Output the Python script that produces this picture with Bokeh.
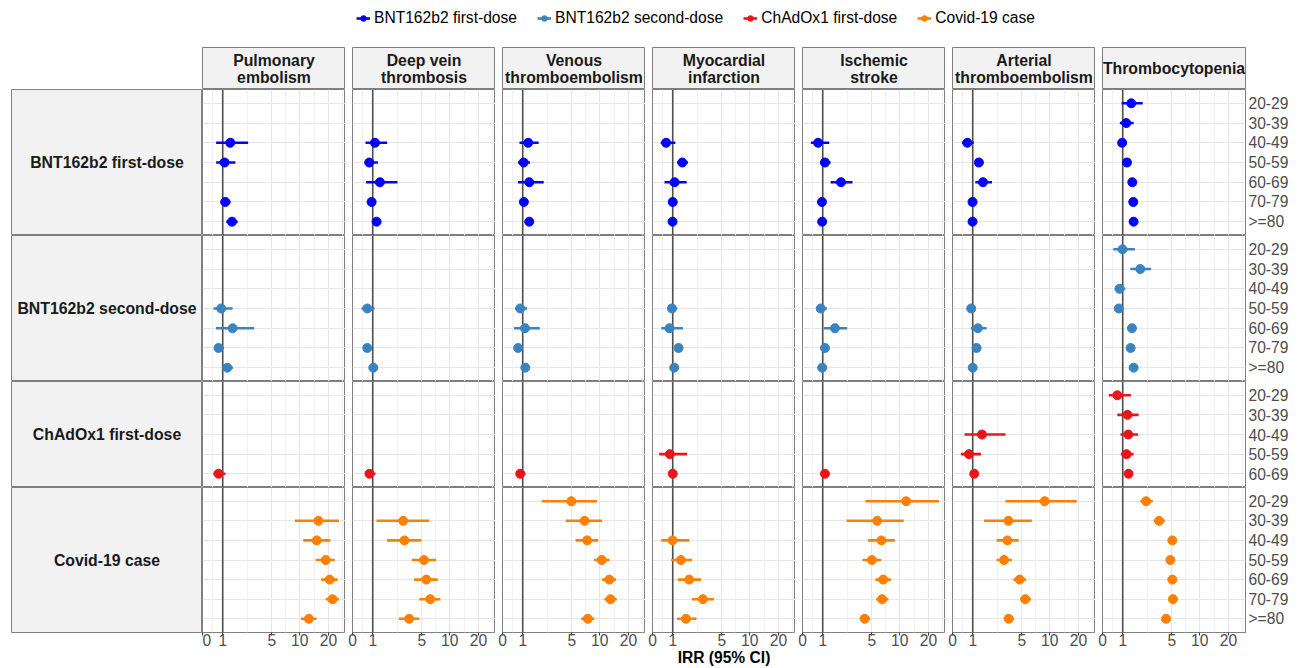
import math
from bokeh.plotting import figure
from bokeh.models import (GridBox, FixedTicker, Span, FactorRange, Range1d,
                          Legend, LegendItem, ColumnDataSource)
from bokeh.embed import file_html
from bokeh.resources import INLINE
from bokeh.core.properties import value

# ---------------- data ----------------
AGE_GROUPS = ["20-29", "30-39", "40-49", "50-59", "60-69", "70-79", ">=80"]
EXPOSURES = ["BNT162b2 first-dose", "BNT162b2 second-dose", "ChAdOx1 first-dose", "Covid-19 case"]
EXPOSURE_AGES = [AGE_GROUPS, AGE_GROUPS, AGE_GROUPS[:5], AGE_GROUPS]
OUTCOMES = ["Pulmonary\nembolism", "Deep vein\nthrombosis", "Venous\nthromboembolism",
            "Myocardial\ninfarction", "Ischemic\nstroke", "Arterial\nthromboembolism",
            "Thrombocytopenia"]
X_BREAKS = [0, 1, 5, 10, 20]
X_LIMIT = 30

N = None
# rows: 7 x BNT162b2 first-dose, 7 x BNT162b2 second-dose, 5 x ChAdOx1 first-dose, 7 x Covid-19 case
PE_IRR = [N, N, 1.42, 1.10, N, 1.14, 1.52, N, N, N, 0.92, 1.56, 0.78, 1.25, N, N, N, N, 0.78, N, 15.7, 15.1, 18.7, 20.6, 22.0, 12.5]
PE_LO = [N, N, 0.66, 0.66, N, 0.88, 1.19, N, N, N, 0.53, 0.65, 0.61, 1.03, N, N, N, N, 0.53, N, 8.9, 10.9, 14.7, 16.8, 18.7, 10.3]
PE_HI = [N, N, 2.62, 1.73, N, 1.44, 1.88, N, N, N, 1.56, 3.12, 1.06, 1.58, N, N, N, N, 1.15, N, 25.7, 20.9, 23.2, 24.9, 25.7, 15.0]

DVT_IRR = [N, N, 1.12, 0.82, 1.40, 0.94, 1.21, N, N, N, 0.72, N, 0.72, 1.03, N, N, N, N, 0.83, N, 3.04, 3.15, 5.30, 5.61, 6.20, 3.59]
DVT_LO = [N, N, 0.63, 0.58, 0.65, 0.76, 1.03, N, N, N, 0.43, N, 0.56, 0.87, N, N, N, N, 0.63, N, 1.21, 1.84, 3.86, 4.10, 4.70, 2.68]
DVT_HI = [N, N, 1.84, 1.28, 2.57, 1.15, 1.44, N, N, N, 1.10, N, 0.90, 1.25, N, N, N, N, 1.15, N, 6.04, 4.95, 7.17, 7.47, 7.98, 4.70]

VTE_IRR = [N, N, 1.30, 1.05, 1.36, 1.06, 1.36, N, N, N, 0.87, 1.12, 0.76, 1.14, N, N, N, N, 0.87, 4.95, 6.90, 7.36, 10.5, 12.6, 13.0, 7.48]
VTE_LO = [N, N, 0.83, 0.75, 0.75, 0.97, 1.25, N, N, N, 0.61, 0.56, 0.70, 1.05, N, N, N, N, 0.68, 2.15, 4.28, 5.51, 8.70, 10.6, 11.2, 6.35]
VTE_HI = [N, N, 1.94, 1.40, 2.29, 1.16, 1.47, N, N, N, 1.23, 2.01, 0.83, 1.24, N, N, N, N, 1.14, 9.38, 10.6, 9.67, 12.7, 14.8, 15.1, 8.78]

MI_IRR = [N, N, 0.66, 1.54, 1.10, 1.00, 0.99, N, N, N, 0.96, 0.83, 1.32, 1.08, N, N, N, 0.85, 1.00, N, N, 0.99, 1.46, 1.97, 3.01, 1.77]
MI_LO = [N, N, 0.39, 1.23, 0.58, 0.93, 0.92, N, N, N, 0.73, 0.42, 1.22, 1.00, N, N, N, 0.32, 0.90, N, N, 0.42, 0.92, 1.28, 2.15, 1.23]
MI_HI = [N, N, 1.14, 1.90, 1.81, 1.08, 1.07, N, N, N, 1.25, 1.58, 1.43, 1.17, N, N, N, 1.84, 1.10, N, N, 1.99, 2.17, 2.86, 4.10, 2.50]

IS_IRR = [N, N, 0.76, 1.12, 2.10, 0.96, 0.97, N, N, N, 0.90, 1.70, 1.12, 0.97, N, N, N, N, 1.12, 11.7, 5.75, 6.40, 5.03, 6.67, 6.50, 4.17]
IS_LO = [N, N, 0.40, 0.87, 1.44, 0.90, 0.90, N, N, N, 0.65, 1.06, 1.02, 0.90, N, N, N, N, 1.02, 4.24, 2.50, 4.55, 3.92, 5.51, 5.60, 3.66]
IS_HI = [N, N, 1.36, 1.44, 2.98, 1.03, 1.04, N, N, N, 1.23, 2.55, 1.22, 1.05, N, N, N, N, 1.22, 25.7, 11.0, 8.90, 6.35, 8.05, 7.60, 4.79]

ATE_IRR = [N, N, 0.72, 1.34, 1.58, 0.99, 0.99, N, N, N, 0.92, 1.28, 1.21, 1.00, N, N, 1.52, 0.80, 1.08, 8.85, 3.52, 3.42, 3.12, 4.75, 5.47, 3.55]
ATE_LO = [N, N, 0.45, 1.25, 1.14, 0.92, 0.92, N, N, N, 0.86, 0.90, 1.12, 0.93, N, N, 0.58, 0.40, 0.99, 3.24, 1.64, 2.50, 2.50, 4.03, 4.79, 3.12]
ATE_HI = [N, N, 1.05, 1.43, 2.17, 1.06, 1.06, N, N, N, 0.98, 1.81, 1.30, 1.07, N, N, 3.24, 1.46, 1.17, 19.2, 6.45, 4.62, 3.86, 5.56, 6.30, 4.07]

TCP_IRR = [1.48, 1.19, 0.97, 1.23, 1.54, 1.60, 1.62, 0.99, 2.05, 0.83, 0.80, 1.52, 1.44, 1.62, 0.72, 1.26, 1.30, 1.21, 1.32, 2.47, 3.59, 5.07, 4.83, 5.07, 5.16, 4.32]
TCP_LO = [0.94, 0.85, 0.90, 1.15, 1.43, 1.50, 1.52, 0.52, 1.42, 0.63, 0.74, 1.42, 1.35, 1.52, 0.30, 0.72, 0.88, 0.90, 1.22, 2.05, 3.09, 4.75, 4.55, 4.80, 4.88, 4.05]
TCP_HI = [2.22, 1.62, 1.05, 1.32, 1.65, 1.70, 1.72, 1.70, 2.86, 1.14, 0.86, 1.62, 1.53, 1.72, 1.46, 1.94, 1.90, 1.62, 1.42, 3.01, 4.17, 5.40, 5.12, 5.35, 5.45, 4.60]

OUTCOME_DATA = [(PE_IRR, PE_LO, PE_HI), (DVT_IRR, DVT_LO, DVT_HI), (VTE_IRR, VTE_LO, VTE_HI),
                (MI_IRR, MI_LO, MI_HI), (IS_IRR, IS_LO, IS_HI), (ATE_IRR, ATE_LO, ATE_HI),
                (TCP_IRR, TCP_LO, TCP_HI)]

# ---------------- style ----------------
COLORS = ["#0000FF", "#3A83C1", "#E8161B", "#FF7F00"]
FONT = "Liberation Sans"
STRIP_FILL = "#F2F2F2"
BORDER = "#7F7F7F"
GRID_MAJOR = "#E6E6E6"
GRID_MINOR = "#F0F0F0"

LEFT_PAD = 11
STRIP_W = 191
PANEL_W = 143
GAP = 7
RIGHT_W = 53
LEGEND_H = 47
STRIP_H = 42
FRAME_H = [146, 146, 106, 146]
BOTTOM_H = 35


def tr(v):
    # pseudo-log transform (sigma = 1)
    return math.asinh(v / 2.0)


XT = [tr(b) for b in X_BREAKS]
XMINOR = [(XT[i] + XT[i + 1]) / 2 for i in range(len(XT) - 1)] + [XT[-1] + (XT[-1] - XT[-2]) / 2]
XMAX = tr(X_LIMIT)


def base_fig(width, height, ml, mr, mb, xr, yr, xloc=None, yloc=None):
    p = figure(width=width, height=height, x_range=xr, y_range=yr,
               x_axis_location=xloc, y_axis_location=yloc, title=None,
               toolbar_location=None, output_backend="svg",
               min_border_left=ml, min_border_right=mr, min_border_top=0,
               min_border_bottom=mb, border_fill_color="white")
    return p


children = []

# legend
leg = base_fig(1298, LEGEND_H, 0, 0, 0, Range1d(0, 1), Range1d(0, 1))
leg.grid.visible = False
leg.outline_line_color = None
items = []
nan = float("nan")
for name, c in zip(EXPOSURES, COLORS):
    s = leg.segment(x0=[nan], y0=[nan], x1=[nan], y1=[nan], line_color=c, line_width=2.6)
    d = leg.scatter(x=[nan], y=[nan], size=9, fill_color=c, line_color=c)
    items.append(LegendItem(label=name, renderers=[s, d]))
legend = Legend(items=items, orientation="horizontal", location=(345, 20),
                glyph_width=14, glyph_height=18, label_standoff=4, spacing=20,
                padding=0, margin=0, border_line_color=None, background_fill_alpha=0,
                label_text_font=FONT, label_text_font_size="15.6px", label_text_color="#000000")
leg.add_layout(legend, "center")
children.append((leg, 0, 0, 1, 8))

# top strips
for j, name in enumerate(OUTCOMES):
    ml = 0 if j == 0 else GAP
    mr = RIGHT_W if j == 6 else 0
    s = base_fig(ml + PANEL_W + mr, STRIP_H, ml, mr, 0, Range1d(0, 1), Range1d(0, 1))
    s.grid.visible = False
    s.background_fill_color = STRIP_FILL
    s.outline_line_color = BORDER
    s.text(x=[0.5], y=[0.5], text=[name], text_align="center", text_baseline="middle",
           text_font=value(FONT), text_font_style="bold", text_font_size="15.8px",
           text_color="#1A1A1A", text_line_height=1.0)
    children.append((s, 1, j + 1))

# left strips
for i, name in enumerate(EXPOSURES):
    mb = BOTTOM_H if i == 3 else 0
    s = base_fig(LEFT_PAD + STRIP_W, FRAME_H[i] + mb, LEFT_PAD, 0, mb, Range1d(0, 1), Range1d(0, 1))
    s.grid.visible = False
    s.background_fill_color = STRIP_FILL
    s.outline_line_color = BORDER
    s.text(x=[0.5], y=[0.5], text=[name], text_align="center", text_baseline="middle",
           text_font=value(FONT), text_font_style="bold", text_font_size="15.8px",
           text_color="#1A1A1A")
    children.append((s, i + 2, 0))

# panels
offsets = [0, 7, 14, 19]
for j, (irr, lo, hi) in enumerate(OUTCOME_DATA):
    for i, exposure in enumerate(EXPOSURES):
        ages = EXPOSURE_AGES[i]
        ml = 0 if j == 0 else GAP
        mr = RIGHT_W if j == 6 else 0
        mb = BOTTOM_H if i == 3 else 0
        yr = FactorRange(factors=list(reversed(ages)), range_padding=0.2,
                         range_padding_units="absolute")
        p = base_fig(ml + PANEL_W + mr, FRAME_H[i] + mb, ml, mr, mb,
                     Range1d(0, XMAX), yr,
                     xloc="below" if i == 3 else None,
                     yloc="right" if j == 6 else None)
        p.background_fill_color = "white"
        p.outline_line_color = BORDER
        ticker = FixedTicker(ticks=XT, minor_ticks=XMINOR)
        p.xgrid.ticker = ticker
        p.xgrid.grid_line_color = GRID_MAJOR
        p.xgrid.minor_grid_line_color = GRID_MINOR
        p.ygrid.grid_line_color = GRID_MAJOR
        if i == 3:
            ax = p.xaxis[0]
            ax.ticker = ticker
            ax.major_label_overrides = {t: str(b) for t, b in zip(XT, X_BREAKS)}
            ax.axis_line_color = None
            ax.major_tick_line_color = "#333333"
            ax.major_tick_out = 3
            ax.major_tick_in = 0
            ax.minor_tick_line_color = None
            ax.major_label_standoff = -3
            ax.major_label_text_font = FONT
            ax.major_label_text_font_size = "15.6px"
            ax.major_label_text_color = "#4D4D4D"
            if j == 3:
                ax.axis_label = "IRR (95% CI)"
                ax.axis_label_standoff = 0
                ax.axis_label_text_font = FONT
                ax.axis_label_text_font_style = "bold"
                ax.axis_label_text_font_size = "15.6px"
                ax.axis_label_text_color = "#000000"
        if j == 6:
            ay = p.yaxis[0]
            ay.axis_line_color = None
            ay.major_tick_line_color = None
            ay.major_tick_out = 3
            ay.major_tick_in = 0
            ay.major_label_standoff = 0
            ay.major_label_text_font = FONT
            ay.major_label_text_font_size = "15.6px"
            ay.major_label_text_color = "#4D4D4D"
        p.add_layout(Span(location=tr(1), dimension="height", line_color="#4D4D4D",
                          line_width=1.6, level="underlay"))
        ys, xs, x0s, x1s = [], [], [], []
        for k, age in enumerate(ages):
            idx = offsets[i] + k
            if irr[idx] is None:
                continue
            ys.append(age)
            xs.append(tr(irr[idx]))
            x0s.append(tr(lo[idx]))
            x1s.append(tr(hi[idx]))
        src = ColumnDataSource(dict(y=ys, x=xs, x0=x0s, x1=x1s))
        c = COLORS[i]
        p.segment(x0="x0", y0="y", x1="x1", y1="y", source=src, line_color=c, line_width=2.6)
        p.scatter(x="x", y="y", source=src, size=9, fill_color=c, line_color=c)
        children.append((p, i + 2, j + 1))

grid = GridBox(children=children, spacing=0)
open("out.html", "w").write(file_html(grid, INLINE))
